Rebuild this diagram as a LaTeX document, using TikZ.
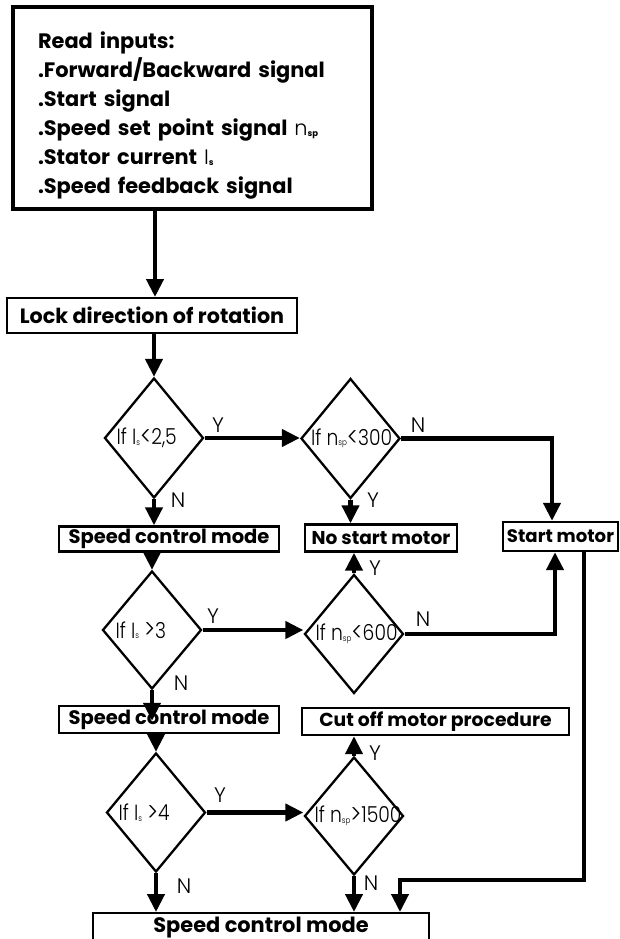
\documentclass[tikz,border=0pt]{standalone}
\usepackage{fontspec}
\setmainfont{Poppins}[UprightFont={* Bold}]
\newfontfamily\lightfont{Poppins}[UprightFont={* Light}]
\usetikzlibrary{shapes.geometric,arrows.meta}
\newcommand\subtxt[1]{\raisebox{-0.5pt}{\fontsize{8.5}{8.5}\selectfont #1}}
\newcommand\narrow[1]{\scalebox{0.85}[1]{#1}}
\newcommand\rel[1]{\raisebox{-0.6pt}{\scalebox{1.2}{#1}}}
\tikzset{
  procbox/.style={draw, line width=2.4pt, rectangle, inner sep=0pt,
    font=\fontsize{19.5}{19.5}\selectfont},
  decision/.style={draw, line width=2.3pt, diamond, inner sep=0pt,
    minimum width=99pt, minimum height=119pt},
  dtext/.style={anchor=west, inner sep=0pt, font=\lightfont\fontsize{22}{22}\selectfont},
  yn/.style={inner sep=0pt, font=\lightfont\fontsize{21}{21}\selectfont},
  flow/.style={line width=4.2pt, -{Triangle[length=18pt,width=17pt]}}
}
\begin{document}
\begin{tikzpicture}[x=1pt,y=-1pt]
\useasboundingbox (0,0) rectangle (619,939);
\clip (0,0) rectangle (619,939);

% input block
\node[draw, line width=4.5pt, rectangle, inner ysep=0pt, inner xsep=25pt,
  minimum width=359pt, minimum height=202pt, text width=309pt, align=left,
  font=\fontsize{20.9}{29}\selectfont] (inputs) at (192.5,108)
  {\rule{0pt}{32pt}Read inputs:\\
   .Forward/Backward signal\\
   .Start signal\\
   .Speed set point signal {\lightfont n}\subtxt{sp}\\
   .Stator current {\lightfont I}\subtxt{s}\\
   .Speed feedback signal};

\node[procbox, line width=2pt, minimum width=290pt, minimum height=35pt,
  font=\fontsize{20.7}{20.7}\selectfont] (lock) at (152,315.5) {Lock direction of rotation};

% first row of decisions
\node[decision, minimum height=120pt] (d1) at (154,438) {};
\node[dtext] (d1t) at ([xshift=13pt]d1.west) {\narrow{If I\subtxt{s}\rel{<}2,5}};
\node[decision, minimum height=120pt] (d2) at (350.5,438.5) {};
\node[dtext] (d2t) at ([xshift=11pt]d2.west) {\narrow{If n\subtxt{sp}\rel{<}300}};

\node[procbox, minimum width=220pt, minimum height=25pt] (speed1) at (169,539) {Speed control mode};
\node[procbox, font=\fontsize{18.6}{18.6}\selectfont, minimum width=152pt, minimum height=27pt] (nostart) at (381,538) {No start motor};
\node[procbox, font=\fontsize{18.1}{18.1}\selectfont, minimum width=115pt, minimum height=29pt] (start) at (560.5,536.5) {Start motor};

% second row of decisions
\node[decision, minimum height=118pt] (d3) at (152,630) {};
\node[dtext] (d3t) at ([xshift=14pt]d3.west) {\narrow{If I\subtxt{s} \rel{>}3}};
\node[decision, minimum height=119pt] (d4) at (354,634) {};
\node[dtext] (d4t) at ([xshift=12pt]d4.west) {\narrow{If n\subtxt{sp}\rel{<}600}};

\node[procbox, minimum width=220pt, minimum height=27pt] (speed2) at (169,719.5) {Speed control mode};
\node[procbox, font=\fontsize{18.8}{18.8}\selectfont, minimum width=267pt, minimum height=27pt] (cutoff) at (435.5,721.5) {Cut off motor procedure};

% third row of decisions
\node[decision, minimum height=119pt] (d5) at (156,812.5) {};
\node[dtext] (d5t) at ([xshift=13pt]d5.west) {\narrow{If I\subtxt{s} \rel{>}4}};
\node[decision, minimum height=118pt] (d6) at (354,816) {};
\node[dtext] (d6t) at ([xshift=11pt]d6.west) {\narrow{If n\subtxt{sp}\rel{>}1500}};

\node[procbox, line width=2pt, font=\fontsize{20.9}{20.9}\selectfont, minimum width=336pt, minimum height=29pt] (speed3) at (261,927.5) {Speed control mode};

% connectors
\coordinate (colA) at (155,0);
\coordinate (startIn) at (552,0);
\coordinate (startUp) at (555,0);
\coordinate (feed) at (584,0);
\coordinate (turn) at (0,880);
\coordinate (drop) at (400,0);

\draw[flow] (colA |- inputs.south) -- (colA |- lock.north);
\draw[flow] (d1.north |- lock.south) -- (d1.north);
\draw[flow] (d1.east) -- (d2.west |- d1.east);
\draw[flow] (d1.south) -- (d1.south |- speed1.north);
\draw[flow] (d2.south) -- (d2.south |- nostart.north);
\draw[flow] (d2.east) -| (startIn |- start.north);

\draw[flow] (d3.north |- speed1.south) -- (d3.north);
\draw[flow] (d3.east) -- (d4.west |- d3.east);
\draw[flow, shorten >=-16pt] (d3.south) -- (d3.south |- speed2.north);
\draw[flow] (d4.north) -- (d4.north |- nostart.south);
\draw[flow] (d4.east) -| (startUp |- start.south);

\draw[flow] (d5.north |- speed2.south) -- (d5.north);
\draw[flow] (d5.east) -- (d6.west |- d5.east);
\draw[flow] (d5.south) -- (d5.south |- speed3.north);
\draw[flow] (d6.north) -- (d6.north |- cutoff.south);
\draw[flow] (d6.south) -- (d6.south |- speed3.north);
\draw[flow] (feed |- start.south) -- (feed |- turn) -- (drop |- turn) -- (drop |- speed3.north);

% branch labels
\node[yn] (y1) at (218,425) {Y};
\node[yn] (n1) at (418,425) {N};
\node[yn] (n2) at (178,500) {N};
\node[yn] (y2) at (373,500) {Y};
\node[yn] (y3) at (213,616) {Y};
\node[yn] (n3) at (423,619) {N};
\node[yn] (n4) at (181,683) {N};
\node[yn] (y4) at (375,568) {Y};
\node[yn] (y5) at (220,795) {Y};
\node[yn] (n5) at (184,886) {N};
\node[yn] (y6) at (375,753) {Y};
\node[yn] (n6) at (371,883) {N};
\end{tikzpicture}
\end{document}
